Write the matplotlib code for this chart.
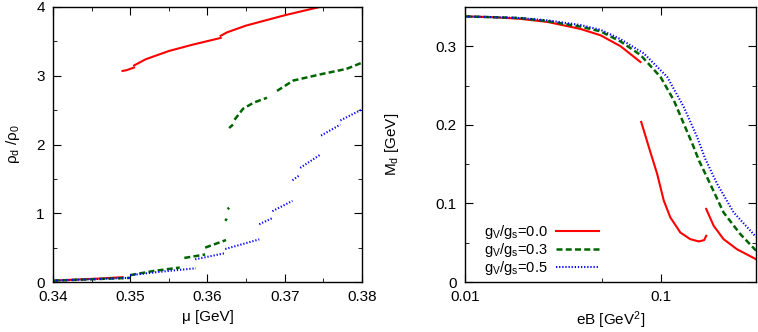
import numpy as np
import matplotlib.pyplot as plt
from matplotlib.ticker import MultipleLocator, FixedLocator, NullFormatter, FixedFormatter

plt.rcParams['font.family'] = ['Liberation Sans', 'DejaVu Sans']
plt.rcParams['mathtext.fontset'] = 'custom'
plt.rcParams['mathtext.rm'] = 'Liberation Sans'
plt.rcParams['mathtext.it'] = 'Liberation Sans:italic'
plt.rcParams['font.size'] = 11

# ---- left panel: rho_d/rho_0 vs mu, split into branches ----
red_mu = [
    [0.340, 0.343, 0.346, 0.349],
    [0.349, 0.3495, 0.350, 0.3505],
    [0.3505, 0.352, 0.355, 0.358, 0.3617],
    [0.3617, 0.3625, 0.365, 0.370, 0.3745],
]
red_rho = [
    [0.02, 0.035, 0.05, 0.07],
    [3.07, 3.08, 3.10, 3.12],
    [3.15, 3.24, 3.36, 3.45, 3.55],
    [3.58, 3.63, 3.73, 3.88, 4.0],
]

green_mu = [
    [0.340, 0.345, 0.350],
    [0.350, 0.353, 0.3564],
    [0.357, 0.3597],
    [0.3597, 0.3624],
    [0.3623, 0.3625],
    [0.3626, 0.3628],
    [0.3628, 0.3633],
    [0.3635, 0.3646, 0.366, 0.3677],
    [0.369, 0.3711, 0.3746, 0.378],
    [0.378, 0.380],
]
green_rho = [
    [0.02, 0.04, 0.06],
    [0.10, 0.16, 0.21],
    [0.35, 0.40],
    [0.50, 0.61],
    [0.89, 0.92],
    [1.06, 1.08],
    [2.24, 2.29],
    [2.36, 2.52, 2.61, 2.68],
    [2.78, 2.93, 3.02, 3.10],
    [3.10, 3.19],
]

blue_mu = [
    [0.340, 0.345, 0.350],
    [0.350, 0.354, 0.3585],
    [0.3584, 0.3623],
    [0.3623, 0.3667],
    [0.3667, 0.3684],
    [0.3684, 0.371],
    [0.371, 0.372],
    [0.372, 0.3747],
    [0.3747, 0.3772],
    [0.3772, 0.380],
]
blue_rho = [
    [0.02, 0.04, 0.06],
    [0.10, 0.15, 0.20],
    [0.33, 0.42],
    [0.48, 0.62],
    [0.84, 0.93],
    [1.03, 1.18],
    [1.48, 1.56],
    [1.66, 1.86],
    [2.13, 2.29],
    [2.35, 2.51],
]

# ---- right panel: M_d vs eB ----
red_eB = [
    [0.010, 0.014, 0.019, 0.0263, 0.0388, 0.049, 0.062, 0.0782],
    [0.0789, 0.0873, 0.0951, 0.1028, 0.111, 0.1248, 0.140, 0.155, 0.165, 0.169],
    [0.169, 0.1844, 0.207, 0.242, 0.303],
]
red_M = [
    [0.338, 0.337, 0.335, 0.331, 0.322, 0.314, 0.300, 0.280],
    [0.2037, 0.1675, 0.1377, 0.1036, 0.0822, 0.063, 0.0546, 0.0516, 0.0533, 0.0588],
    [0.093, 0.0716, 0.0546, 0.0418, 0.029],
]
green_eB = [0.010, 0.014, 0.019, 0.0263, 0.0388, 0.049, 0.062, 0.0782, 0.0989,
            0.1155, 0.1298, 0.146, 0.155, 0.177, 0.207, 0.252, 0.303]
green_M = [0.338, 0.337, 0.336, 0.332, 0.325, 0.319, 0.306, 0.289, 0.261,
           0.2315, 0.2017, 0.1717, 0.155, 0.125, 0.0886, 0.061, 0.040]
blue_eB = [0.010, 0.014, 0.019, 0.0263, 0.0388, 0.049, 0.062, 0.0813, 0.107,
           0.1298, 0.152, 0.167, 0.192, 0.233, 0.303]
blue_M = [0.338, 0.337, 0.336, 0.333, 0.327, 0.321, 0.309, 0.291, 0.261,
          0.223, 0.1845, 0.157, 0.125, 0.0886, 0.0575]
labels = ['g$_{\\rm V}$/g$_{\\rm s}$=0.0', 'g$_{\\rm V}$/g$_{\\rm s}$=0.3',
          'g$_{\\rm V}$/g$_{\\rm s}$=0.5']

red = '#ff0000'
green = '#006400'
blue = '#0000ff'
green_dash = (2.4, 1.3)
blue_dot = (0.6, 0.9)

fig = plt.figure(figsize=(7.58, 3.32), dpi=100)
ax1 = fig.add_axes([53 / 758, 50 / 332, 309 / 758, 275 / 332])
ax2 = fig.add_axes([465 / 758, 50 / 332, 291 / 758, 275 / 332])

for xs, ys in zip(red_mu, red_rho):
    ax1.plot(xs, ys, color=red, lw=1.5)
for xs, ys in zip(green_mu, green_rho):
    ax1.plot(xs, ys, color=green, lw=1.8, dashes=green_dash)
for xs, ys in zip(blue_mu, blue_rho):
    ax1.plot(xs, ys, color=blue, lw=1.5, dashes=blue_dot)

ax1.set_xlim(0.34, 0.38)
ax1.set_ylim(0, 4)
ax1.xaxis.set_major_locator(FixedLocator([0.34, 0.35, 0.36, 0.37, 0.38]))
ax1.xaxis.set_major_formatter(FixedFormatter(['0.34', '0.35', '0.36', '0.37', '0.38']))
ax1.xaxis.set_minor_locator(MultipleLocator(0.005))
ax1.yaxis.set_major_locator(MultipleLocator(1))
ax1.yaxis.set_minor_locator(MultipleLocator(0.5))
ax1.set_xlabel('μ [GeV]')
ax1.set_ylabel('ρ$_{\\rm d}$ /ρ$_0$')
ax1.yaxis.set_label_coords(-0.1, 0.5)

ax2.plot(red_eB[0], red_M[0], color=red, lw=1.5, label=labels[0])
for xs, ys in zip(red_eB[1:], red_M[1:]):
    ax2.plot(xs, ys, color=red, lw=1.5)
ax2.plot(green_eB, green_M, color=green, lw=1.8, dashes=green_dash, label=labels[1])
ax2.plot(blue_eB, blue_M, color=blue, lw=1.5, dashes=blue_dot, label=labels[2])

ax2.set_xscale('log')
ax2.set_xlim(0.01, 0.303)
ax2.set_ylim(0, 0.35)
ax2.xaxis.set_major_locator(FixedLocator([0.01, 0.1]))
ax2.xaxis.set_major_formatter(FixedFormatter(['0.01', '0.1']))
ax2.xaxis.set_minor_locator(FixedLocator([0.05]))
ax2.xaxis.set_minor_formatter(NullFormatter())
ax2.yaxis.set_major_locator(FixedLocator([0, 0.1, 0.2, 0.3]))
ax2.yaxis.set_major_formatter(FixedFormatter(['0', '0.1', '0.2', '0.3']))
ax2.yaxis.set_minor_locator(MultipleLocator(0.05))
ax2.set_xlabel('eB [GeV$^2$]')
ax2.set_ylabel('M$_{\\rm d}$ [GeV]')
ax2.yaxis.set_label_coords(-0.22, 0.5)
ax2.legend(loc='lower left', bbox_to_anchor=(0.03, -0.02), frameon=False,
           markerfirst=False, handlelength=2.9, labelspacing=0.0,
           borderpad=0.2, handletextpad=0.6, fontsize=10.5)

for ax in (ax1, ax2):
    ax.tick_params(which='both', direction='in', top=True, right=True)
    ax.tick_params(which='major', length=6, pad=6)
    ax.tick_params(which='minor', length=3)
    for s in ax.spines.values():
        s.set_linewidth(1.0)

fig.savefig('out.png', dpi=100)
